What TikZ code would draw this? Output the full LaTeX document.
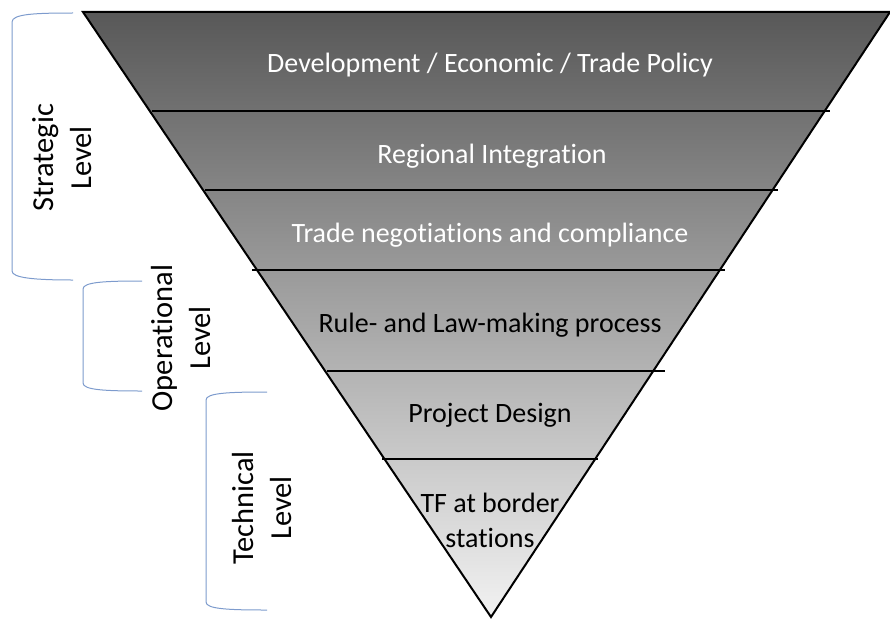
\documentclass[tikz,border=0pt]{standalone}
\usepackage{fontspec}
\setmainfont{Carlito}[Ligatures=NoCommon]
\definecolor{brk}{RGB}{125,155,205}
\definecolor{topg}{RGB}{88,88,88}
\definecolor{botg}{RGB}{242,242,242}
\begin{document}
\begin{tikzpicture}[x=1pt,y=-1pt,
  band/.style={line width=1.6pt,draw=black},
  edge/.style={line width=2pt,draw=black,line join=miter},
  lab/.style={font=\fontsize{28}{34}\selectfont,inner sep=0pt},
  wlab/.style={lab,text=white},
  side/.style={font=\fontsize{30.5}{38}\selectfont,rotate=90,align=center,inner sep=0pt},
  bracket/.style={draw=brk,line width=1pt}]
\useasboundingbox (0,0) rectangle (890,618);
% triangle
\shade[top color=topg,bottom color=botg] (83,12) -- (890,12) -- (491,617) -- cycle;
% dividers
\draw[band] (152,111) -- (830,111);
\draw[band] (205,190) -- (778,190);
\draw[band] (252,270) -- (725,270);
\draw[band] (327,371) -- (665,371);
\draw[band] (382,459) -- (598,459);
\draw[edge] (83,12) -- (890,12) -- (491,617) -- cycle;
% labels
\node[wlab] (t1) at (490,65) {Development / Economic / Trade Policy};
\node[wlab] (t2) at (492,156) {Regional Integration};
\node[wlab] (t3) at (490,235) {Trade negotiations and compliance};
\node[lab] (t4) at (490,325) {Rule- and Law-making process};
\node[lab] (t5) at (490,415) {Project Design};
\node[lab,align=center,font=\fontsize{28}{35}\selectfont] (t6) at (490,520) {TF at border\\stations};
% brackets
\draw[bracket] (73,13) .. controls (35,13) and (12,14) .. (12,22) -- (12,271) .. controls (12,278) and (35,280) .. (73,280);
\draw[bracket] (142,281) .. controls (105,281) and (83,282) .. (83,289) -- (83,383) .. controls (83,390) and (105,391) .. (142,391);
\draw[bracket] (267,392) .. controls (228,392) and (206,393) .. (206,400) -- (206,602) .. controls (206,609) and (228,610) .. (267,610);
% side labels
\node[side] (s1) at (62,158) {Strategic\\Level};
\node[side] (s2) at (181,338) {Operational\\Level};
\node[side] (s3) at (262,508) {Technical\\Level};
\end{tikzpicture}
\end{document}
